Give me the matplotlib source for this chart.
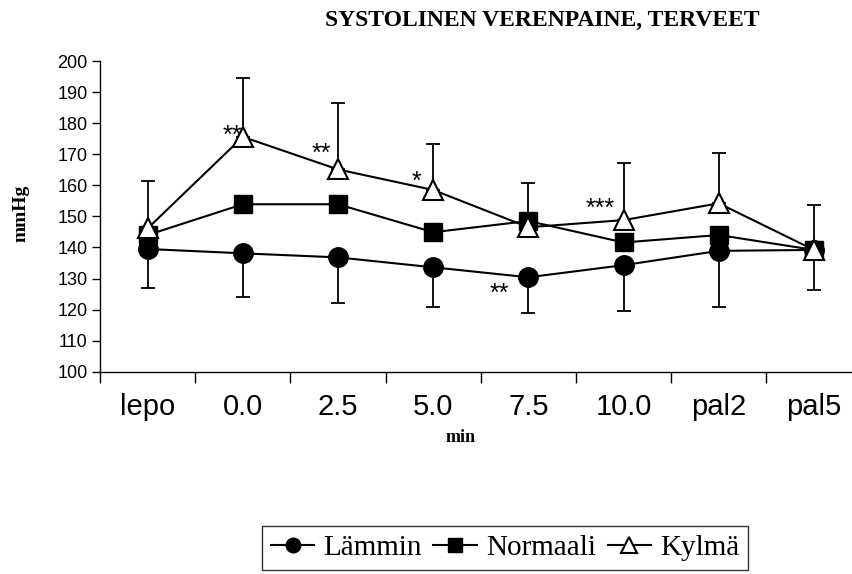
import matplotlib
matplotlib.use("Agg")
import matplotlib.pyplot as plt
import numpy as np

# categories and series values (mmHg)
labels = ["lepo", "0.0", "2.5", "5.0", "7.5", "10.0", "pal2", "pal5"]
lammin = [139.5, 138.1, 136.8, 133.6, 130.4, 134.3, 138.9, 139.2]
normaali = [144.0, 153.9, 153.9, 144.9, 148.5, 141.6, 144.0, 139.2]
kylma = [146.1, 175.6, 165.1, 158.5, 146.5, 148.8, 154.2, 139.2]
# error bars: Lämmin downward, Kylmä upward
lammin_low = [126.8, 124.1, 122.2, 120.9, 119.0, 119.6, 120.9, 126.3]
kylma_high = [161.4, 194.6, 186.4, 173.2, 160.6, 167.3, 170.5, 153.7]

# significance marks
star_x = [0.89, 1.83, 2.82, 3.70, 4.76]
star_y = [175.8, 170.0, 161.0, 125.0, 152.5]
star_txt = ["**", "**", "*", "**", "***"]

x = np.arange(len(labels))
lammin = np.array(lammin)
kylma = np.array(kylma)

fig = plt.figure(figsize=(8.53, 5.74), dpi=100)
ax = fig.add_axes([100 / 853, 0.3524, 1 - 100 / 853, 0.5413])

lw = 1.5
ax.errorbar(x, lammin, yerr=[lammin - np.array(lammin_low), np.zeros(8)],
            fmt='none', ecolor='black', elinewidth=1.3, capsize=5, capthick=1.3, zorder=2)
ax.errorbar(x, kylma, yerr=[np.zeros(8), np.array(kylma_high) - kylma],
            fmt='none', ecolor='black', elinewidth=1.3, capsize=5, capthick=1.3, zorder=2)

ax.plot(x, lammin, '-o', color='black', lw=lw, ms=14, label='Lämmin', zorder=3)
ax.plot(x, normaali, '-s', color='black', lw=lw, ms=13, label='Normaali', zorder=4)
ax.plot(x, kylma, '-^', color='black', mfc='white', mec='black', mew=1.5, lw=lw, ms=15,
        label='Kylmä', zorder=5)

for sx, sy, t in zip(star_x, star_y, star_txt):
    ax.text(sx, sy, t, ha='center', va='center', fontsize=18,
            family='Liberation Sans', zorder=6)

ax.set_xlim(-0.5, 7.41)
ax.set_ylim(100, 200)
ax.set_yticks(np.arange(100, 201, 10))
ax.set_xticks(x)
ax.set_xticklabels(labels, family='Liberation Sans', fontsize=21)
ax.set_xticks(np.arange(-0.5, 7.0, 1), minor=True)
ax.tick_params(axis='x', which='major', length=0, pad=15)
ax.tick_params(axis='x', which='minor', length=8, width=1, direction='out')
ax.tick_params(axis='y', length=6, width=1, direction='out', pad=3)
for t in ax.get_yticklabels():
    t.set_family('Liberation Sans')
    t.set_fontsize(13)

ax.spines['top'].set_visible(False)
ax.spines['right'].set_visible(False)
ax.spines['left'].set_linewidth(1)
ax.spines['bottom'].set_linewidth(1)

fig.text(542 / 853, 1 - 20 / 574, 'SYSTOLINEN VERENPAINE, TERVEET', ha='center', va='center',
         family='Liberation Serif', fontweight='bold', fontsize=17)
fig.text(21 / 853, 1 - 213 / 574, 'mmHg', rotation=90, ha='center', va='center',
         family='Liberation Serif', fontweight='bold', fontsize=14)
fig.text(461 / 853, 1 - 437 / 574, 'min', ha='center', va='center',
         family='Liberation Serif', fontweight='bold', fontsize=13)

leg = fig.legend(loc='center', bbox_to_anchor=(505 / 853, 1 - 548 / 574), ncol=3,
                 prop={'family': 'Liberation Serif', 'size': 21}, frameon=True,
                 fancybox=False, edgecolor='black', handlelength=1.5, handletextpad=0.3,
                 columnspacing=0.4, borderpad=0.3, markerscale=0.75)
leg.get_frame().set_linewidth(1)

fig.savefig('out.png', dpi=100)
